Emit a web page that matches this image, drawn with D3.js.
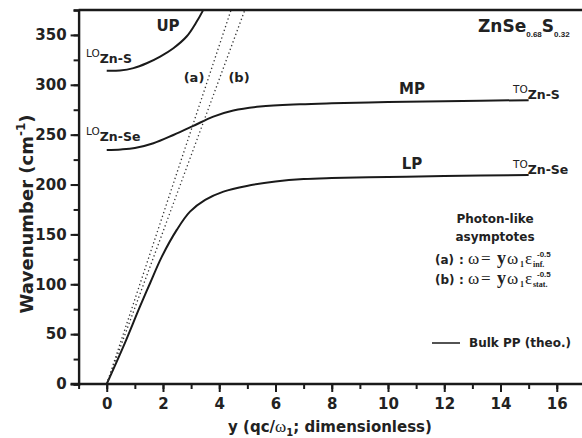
<!DOCTYPE html>
<html>
<head>
<meta charset="utf-8">
<script src="https://cdn.jsdelivr.net/npm/d3@7"></script>
<style>
  body { margin: 0; background: #fff; }
  svg text { font-family: "DejaVu Sans", Arial, sans-serif; font-weight: bold; fill: #222; }
  svg text.serif { font-family: "Liberation Serif", "Times New Roman", serif; font-weight: normal; }
  svg text.arial { font-family: "Liberation Sans", Arial, sans-serif; }
</style>
</head>
<body>
<div id="chart"></div>
<script>
// polariton branches (y, wavenumber)
const upX = [0, 0.47, 0.95, 1.42, 1.9, 2.37, 2.84, 3.2, 3.4, 3.55];
const upY = [314, 314.3, 316.7, 321.6, 328.3, 336.7, 348.4, 363.4, 373.4, 382];
const mpX = [0, 0.5, 1, 1.66, 2.37, 3.08, 3.79, 4.5, 5.45, 6.87, 8, 10, 12, 15];
const mpY = [234.7, 235.2, 236.6, 241.4, 249.7, 258.8, 268.1, 274.2, 278.2, 280.5, 281.5, 282.7, 283.6, 284.6];
const lpX = [0, 0.59, 1.18, 1.54, 1.96, 2.49, 2.96, 3.5, 4.15, 4.98, 6, 7, 8, 10, 12, 15];
const lpY = [0, 37.4, 77.5, 101, 127.7, 154.5, 172.8, 184.6, 192.9, 198.6, 203, 205.5, 206.5, 207.5, 208.5, 209.5];
// photon-like asymptotes (a) and (b)
const asymA = [[0, 0], [4.42, 375]];
const asymB = [[0, 0], [4.91, 375]];

const xTicks = [0, 2, 4, 6, 8, 10, 12, 14, 16];
const yTicks = [0, 50, 100, 150, 200, 250, 300, 350];

const width = 582, height = 438;
const svg = d3.select("#chart").append("svg").attr("width", width).attr("height", height);

const x = d3.scaleLinear().domain([-1, 17]).range([78.6, 584.9]);
const y = d3.scaleLinear().domain([0, 375]).range([384, 10]);

svg.append("clipPath").attr("id", "clip")
    .append("rect").attr("x", x(-1)).attr("y", y(375)).attr("width", x(17) - x(-1)).attr("height", y(0) - y(375));

const plot = svg.append("g").attr("clip-path", "url(#clip)");

const line = d3.line().x(d => x(d[0])).y(d => y(d[1])).curve(d3.curveCatmullRom.alpha(0.5));
const zip = (a, b) => a.map((v, i) => [v, b[i]]);

[[upX, upY], [mpX, mpY], [lpX, lpY]].forEach(([a, b]) => {
    plot.append("path").datum(zip(a, b))
        .attr("d", line)
        .attr("fill", "none").attr("stroke", "#1a1a1a").attr("stroke-width", 2);
});

[asymA, asymB].forEach(d => {
    plot.append("path").datum(d)
        .attr("d", d3.line().x(p => x(p[0])).y(p => y(p[1])))
        .attr("fill", "none").attr("stroke", "#333").attr("stroke-width", 1.3)
        .attr("stroke-dasharray", "1.3,2.7");
});

// axes
const xAxis = svg.append("g").attr("transform", `translate(0,${y(0)})`)
    .call(d3.axisBottom(x).tickValues(d3.range(-1, 18, 1)).tickSize(5).tickFormat(""));
const xMaj = svg.append("g").attr("transform", `translate(0,${y(0)})`)
    .call(d3.axisBottom(x).tickValues(xTicks).tickSize(8).tickPadding(6).tickFormat(d3.format("d")));
const yAxis = svg.append("g").attr("transform", `translate(${x(-1)},0)`)
    .call(d3.axisLeft(y).tickValues(d3.range(0, 376, 25)).tickSize(5).tickFormat(""));
const yMaj = svg.append("g").attr("transform", `translate(${x(-1)},0)`)
    .call(d3.axisLeft(y).tickValues(yTicks).tickSize(8).tickPadding(4).tickFormat(d3.format("d")));

svg.selectAll(".domain").attr("stroke", "#1a1a1a").attr("stroke-width", 2.4);
svg.selectAll(".tick line").attr("stroke", "#1a1a1a").attr("stroke-width", 2);
svg.selectAll(".tick text").style("font-size", "15px").attr("fill", "#222");
xMaj.select(".domain").remove();
yMaj.select(".domain").remove();
xAxis.select(".domain").attr("d", `M${x(-1) - 8},0H${x(17)}`);

// top border
svg.append("line").attr("x1", x(-1)).attr("x2", x(17)).attr("y1", y(375)).attr("y2", y(375))
    .attr("stroke", "#1a1a1a").attr("stroke-width", 2.4);

// axis titles
svg.append("text").attr("x", 330).attr("y", 432).attr("text-anchor", "middle").style("font-size", "15px")
    .html('y (qc/<tspan style="font-family:Liberation Serif;font-weight:normal;font-size:17px">ω</tspan><tspan font-size="10" dy="4">1</tspan><tspan dy="-4">; dimensionless)</tspan>');

svg.append("text").attr("transform", "translate(33,214) rotate(-90)").attr("text-anchor", "middle")
    .style("font-size", "18px")
    .html('Wavenumber (cm<tspan font-size="12" dy="-8">-1</tspan><tspan dy="8">)</tspan>');

// branch labels
function label(px, py, txt, size) {
    svg.append("text").attr("x", px).attr("y", py).attr("text-anchor", "middle")
        .style("font-size", size + "px").text(txt);
}
label(168, 31, "UP", 15);
label(412, 94, "MP", 15);
label(412, 169, "LP", 15);
label(194, 82, "(a)", 13);
label(239, 82, "(b)", 13);

function phonon(px, py, main, sub) {
    const t = svg.append("text").attr("x", px).attr("y", py).style("font-size", "10.5px");
    t.append("tspan").style("font-weight", "normal").text(main);
    t.append("tspan").attr("dy", 6).style("font-size", "12.5px").text(sub);
}
phonon(86, 57, "LO", "Zn-S");
phonon(86, 135, "LO", "Zn-Se");
phonon(513, 93, "TO", "Zn-S");
phonon(513, 168, "TO", "Zn-Se");

const comp = svg.append("text").attr("x", 478).attr("y", 32).style("font-size", "17px");
comp.append("tspan").text("ZnSe");
comp.append("tspan").attr("dy", 5).style("font-family", "Liberation Sans").style("font-size", "8px").text("0.68");
comp.append("tspan").attr("dy", -5).text("S");
comp.append("tspan").attr("dy", 5).style("font-family", "Liberation Sans").style("font-size", "8px").text("0.32");

// legend block
svg.append("text").attr("x", 495).attr("y", 223).attr("text-anchor", "middle").style("font-size", "12px").text("Photon-like");
svg.append("text").attr("x", 495).attr("y", 241).attr("text-anchor", "middle").style("font-size", "12px").text("asymptotes");

function formula(py, tag, eSub) {
    const put = (px, dy, txt, size, cls, bold) => {
        const t = svg.append("text").attr("x", px).attr("y", py + dy).style("font-size", size + "px").text(txt);
        if (cls) t.attr("class", cls);
        if (bold) t.style("font-weight", "bold");
    };
    put(435, 0, tag, 12);
    put(459, 0, ":", 12);
    put(468, 0, "ω", 17, "serif");
    put(481, 0, "=", 17, "serif");
    put(497, 0, "y", 18, "serif", true);
    put(507, 0, "ω", 17, "serif");
    put(520, 3, "1", 8, "serif", true);
    put(525, 0, "ε", 17, "serif");
    put(533, 3, eSub, 8, "serif", true);
    put(537, -7, "-0.5", 8, "arial");
}
formula(264, "(a)", "inf.");
formula(284, "(b)", "stat.");

svg.append("line").attr("x1", 432).attr("x2", 460).attr("y1", 343).attr("y2", 343)
    .attr("stroke", "#1a1a1a").attr("stroke-width", 1.5);
svg.append("text").attr("x", 469).attr("y", 347).style("font-size", "12px").text("Bulk PP (theo.)");
</script>
</body>
</html>
